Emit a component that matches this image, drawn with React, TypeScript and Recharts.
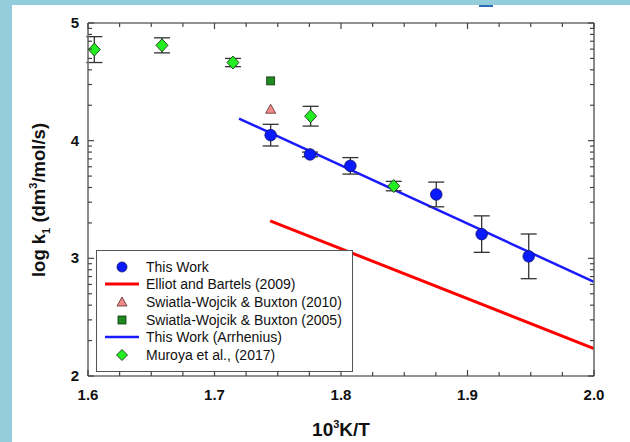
import React from 'react';
import { ComposedChart, Scatter, Line, XAxis, YAxis, ErrorBar } from 'recharts';

// values
const thisWorkX = [1.7444, 1.7755, 1.8074, 1.8753, 1.9112, 1.9484];
const thisWorkY = [4.047, 3.883, 3.786, 3.543, 3.206, 3.017];
const thisWorkErr = [0.092, 0.02, 0.07, 0.105, 0.155, 0.19];

const muroyaX = [1.605, 1.6585, 1.7146, 1.776, 1.8417];
const muroyaY = [4.774, 4.81, 4.664, 4.208, 3.614];
const muroyaErr = [0.11, 0.064, 0.035, 0.084, 0.04];

const swiatla2010X = [1.7444];
const swiatla2010Y = [4.267];
const swiatla2005X = [1.7444];
const swiatla2005Y = [4.508];

const elliotX = [1.744, 2.0];
const elliotY = [3.319, 2.233];
const arrheniusX = [1.7194, 2.0];
const arrheniusY = [4.188, 2.8];

const xTicks = [1.6, 1.625, 1.65, 1.675, 1.7, 1.725, 1.75, 1.775, 1.8, 1.825, 1.85, 1.875, 1.9, 1.925, 1.95, 1.975, 2.0];
const xLabels = [1.6, 1.7, 1.8, 1.9, 2.0];
const yDecades = [2, 3, 4];
const yLabels = [2, 3, 4, 5];
const yTicks = [
  ...yDecades.flatMap((d) => [1, 2, 3, 4, 5, 6, 7, 8, 9].map((n) => d + Math.log10(n))),
  5,
];

const legendLabels = [
  'This Work',
  'Elliot and Bartels (2009)',
  'Swiatla-Wojcik & Buxton (2010)',
  'Swiatla-Wojcik & Buxton (2005)',
  'This Work (Arrhenius)',
  'Muroya et al., (2017)',
];

const zip = (xs: number[], ys: number[], es?: number[]) =>
  xs.map((x, i) => ({ x, y: ys[i], err: es ? es[i] : 0 }));

const thisWork = zip(thisWorkX, thisWorkY, thisWorkErr);
const muroya = zip(muroyaX, muroyaY, muroyaErr);
const sw2010 = zip(swiatla2010X, swiatla2010Y);
const sw2005 = zip(swiatla2005X, swiatla2005Y);
const elliot = zip(elliotX, elliotY);
const arrhenius = zip(arrheniusX, arrheniusY);

const AXIS = '#6e6e6e';
const TICK = '#444';
const FONT = 'Liberation Sans, Arial, sans-serif';

const isMajorX = (v: number) => xLabels.some((l) => Math.abs(l - v) < 1e-6);
const isMajorY = (v: number) => yLabels.some((l) => Math.abs(l - v) < 1e-6);

const BottomTick = (p: any) => {
  const v = p.payload.value;
  const major = isMajorX(v);
  return (
    <g>
      <line x1={p.x} x2={p.x} y1={p.y} y2={p.y - (major ? 6 : 4)} stroke={TICK} strokeWidth={1.2} />
      {major && (
        <text x={p.x} y={p.y + 24} textAnchor="middle" fontFamily={FONT} fontWeight="bold" fontSize={15} fill="#111">
          {v.toFixed(1)}
        </text>
      )}
    </g>
  );
};

const TopTick = (p: any) => {
  const major = isMajorX(p.payload.value);
  return <line x1={p.x} x2={p.x} y1={p.y} y2={p.y + (major ? 6 : 4)} stroke={TICK} strokeWidth={1.2} />;
};

const LeftTick = (p: any) => {
  const v = p.payload.value;
  const major = isMajorY(v);
  return (
    <g>
      <line x1={p.x} x2={p.x + (major ? 6 : 4)} y1={p.y} y2={p.y} stroke={TICK} strokeWidth={1.2} />
      {major && (
        <text x={p.x - 9} y={p.y + 5} textAnchor="end" fontFamily={FONT} fontWeight="bold" fontSize={15} fill="#111">
          {Math.round(v)}
        </text>
      )}
    </g>
  );
};

const RightTick = (p: any) => {
  const major = isMajorY(p.payload.value);
  return <line x1={p.x} x2={p.x - (major ? 6 : 4)} y1={p.y} y2={p.y} stroke={TICK} strokeWidth={1.2} />;
};

const Circle = (p: any) => <circle cx={p.cx} cy={p.cy} r={5.8} fill="#0a1aff" stroke="#10106a" strokeWidth={0.8} />;
const Diamond = (p: any) => (
  <polygon
    points={`${p.cx},${p.cy - 6.5} ${p.cx + 6},${p.cy} ${p.cx},${p.cy + 6.5} ${p.cx - 6},${p.cy}`}
    fill="#22ee22"
    stroke="#1a3a1a"
    strokeWidth={0.9}
  />
);
const Square = (p: any) => <rect x={p.cx - 4} y={p.cy - 4} width={8} height={8} fill="#1f8a1f" stroke="#103010" strokeWidth={0.8} />;
const Triangle = (p: any) => (
  <polygon
    points={`${p.cx},${p.cy - 5} ${p.cx + 5},${p.cy + 4} ${p.cx - 5},${p.cy + 4}`}
    fill="#f08a8a"
    stroke="#5a2a2a"
    strokeWidth={0.8}
  />
);

const legendIcons = [
  <circle cx={17} cy={9} r={5} fill="#0a1aff" stroke="#10106a" strokeWidth={0.8} />,
  <line x1={0} x2={34} y1={9} y2={9} stroke="#ff0000" strokeWidth={3} />,
  <polygon points="17,4 22,13 12,13" fill="#f08a8a" stroke="#5a2a2a" strokeWidth={0.8} />,
  <rect x={13} y={5} width={8} height={8} fill="#1f8a1f" stroke="#103010" strokeWidth={0.8} />,
  <line x1={0} x2={34} y1={9} y2={9} stroke="#1a1aff" strokeWidth={2.5} />,
  <polygon points="17,3.5 22.5,9 17,14.5 11.5,9" fill="#22ee22" stroke="#1a3a1a" strokeWidth={0.9} />,
];

const YTitle = () => (
  <text transform="translate(45,200) rotate(-90)" textAnchor="middle" fontFamily={FONT} fontWeight="bold" fontSize={18.5} fill="#111">
    log k
    <tspan fontSize={11} dy={5}>1</tspan>
    <tspan dy={-5}> (dm</tspan>
    <tspan fontSize={11} dy={-8}>3</tspan>
    <tspan dy={8}>/mol/s)</tspan>
  </text>
);

const XTitle = () => (
  <text x={341} y={436} textAnchor="middle" fontFamily={FONT} fontWeight="bold" fontSize={19} fill="#111">
    10
    <tspan fontSize={11} dy={-8}>3</tspan>
    <tspan dy={8}>K/T</tspan>
  </text>
);

export default function App() {
  return (
    <div style={{ position: 'absolute', left: 0, top: 0, width: 630, height: 442, background: '#fff', overflow: 'hidden' }}>
      <div style={{ position: 'absolute', left: 0, top: 0, width: 12, height: 442, background: '#93cddc' }} />
      <div style={{ position: 'absolute', left: 0, top: 0, width: 630, height: 5, background: '#93cddc' }} />
      <div style={{ position: 'absolute', left: 479, top: 5, width: 14, height: 2, background: '#2a6fb5' }} />
      <div style={{ position: 'absolute', left: 0, top: 0 }}>
        <ComposedChart width={630} height={442} margin={{ top: 13, right: 0, bottom: 0, left: 0 }}>
          <XAxis
            dataKey="x"
            type="number"
            domain={[1.6, 2.0]}
            ticks={xTicks}
            interval={0}
            height={66}
            tickSize={0}
            tickMargin={0}
            tick={<BottomTick />}
            axisLine={{ stroke: AXIS, strokeWidth: 1.6 }}
            allowDataOverflow
            label={<XTitle />}
          />
          <XAxis
            xAxisId="top"
            orientation="top"
            dataKey="x"
            type="number"
            domain={[1.6, 2.0]}
            ticks={xTicks}
            interval={0}
            height={10}
            tickSize={0}
            tickMargin={0}
            tick={<TopTick />}
            axisLine={{ stroke: AXIS, strokeWidth: 1.6 }}
            allowDataOverflow
          />
          <YAxis
            type="number"
            domain={[2, 5]}
            ticks={yTicks}
            interval={0}
            width={88}
            tickSize={0}
            tickMargin={0}
            tick={<LeftTick />}
            axisLine={{ stroke: AXIS, strokeWidth: 1.6 }}
            allowDataOverflow
            label={<YTitle />}
          />
          <YAxis
            yAxisId="right"
            orientation="right"
            type="number"
            domain={[2, 5]}
            ticks={yTicks}
            interval={0}
            width={36}
            tickSize={0}
            tickMargin={0}
            tick={<RightTick />}
            axisLine={{ stroke: AXIS, strokeWidth: 1.6 }}
            allowDataOverflow
          />
          <Line data={elliot} dataKey="y" stroke="#ff0000" strokeWidth={3} dot={false} isAnimationActive={false} />
          <Line data={arrhenius} dataKey="y" stroke="#1a1aff" strokeWidth={2.5} dot={false} isAnimationActive={false} />
          <Scatter data={sw2005} dataKey="y" shape={<Square />} isAnimationActive={false} />
          <Scatter data={sw2010} dataKey="y" shape={<Triangle />} isAnimationActive={false} />
          <Scatter data={thisWork} dataKey="y" shape={<Circle />} isAnimationActive={false}>
            <ErrorBar dataKey="err" direction="y" width={8} stroke="#333" strokeWidth={1.3} />
          </Scatter>
          <Scatter data={muroya} dataKey="y" shape={<Diamond />} isAnimationActive={false}>
            <ErrorBar dataKey="err" direction="y" width={8} stroke="#333" strokeWidth={1.3} />
          </Scatter>
        </ComposedChart>
      </div>
      <div
        style={{
          position: 'absolute',
          left: 96,
          top: 250,
          width: 257,
          height: 122,
          border: '1px solid #555',
          background: '#fff',
          fontFamily: FONT,
          fontSize: 14,
          color: '#111',
          paddingTop: 7,
          boxSizing: 'border-box',
        }}
      >
        {legendLabels.map((label, i) => (
          <div key={label} style={{ display: 'flex', alignItems: 'center', height: 17.6 }}>
            <svg width={34} height={18} style={{ marginLeft: 8, marginRight: 7 }}>
              {legendIcons[i]}
            </svg>
            <span>{label}</span>
          </div>
        ))}
      </div>
    </div>
  );
}
